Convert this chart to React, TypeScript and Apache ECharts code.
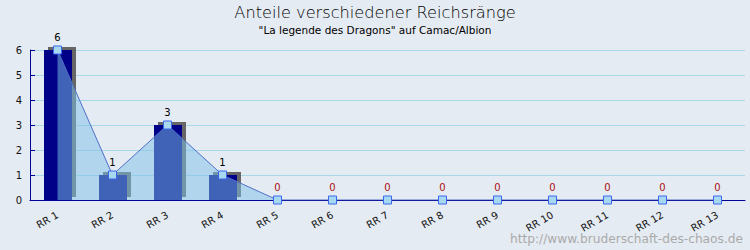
import React, { useEffect, useRef } from "react";
import * as echarts from "echarts";

const categories = ["RR 1", "RR 2", "RR 3", "RR 4", "RR 5", "RR 6", "RR 7", "RR 8", "RR 9", "RR 10", "RR 11", "RR 12", "RR 13"];
const values = [6, 1, 3, 1, 0, 0, 0, 0, 0, 0, 0, 0, 0];
const titleText = "Anteile verschiedener Reichsränge";
const subtitleText = '"La legende des Dragons" auf Camac/Albion';
const watermark = "http://www.bruderschaft-des-chaos.de";

const FONT = "DejaVu Sans";

export default function App() {
  const ref = useRef<HTMLDivElement>(null);
  useEffect(() => {
    if (!ref.current) return;
    const chart = echarts.init(ref.current, undefined, { renderer: "svg" });
    chart.setOption({
      animation: false,
      backgroundColor: "#e5ebf2",
      textStyle: { fontFamily: FONT },
      grid: { left: 30, right: 5, top: 50, bottom: 50, containLabel: false },
      graphic: [
        {
          type: "text",
          x: 375,
          y: 12,
          style: {
            text: titleText,
            fontFamily: FONT,
            fontSize: 16.2,
            fontWeight: 300,
            fill: "#000",
            textAlign: "center",
            textVerticalAlign: "middle",
          },
        },
        {
          type: "text",
          x: 375,
          y: 30,
          style: {
            text: subtitleText,
            fontFamily: FONT,
            fontSize: 10.5,
            fill: "#000",
            textAlign: "center",
            textVerticalAlign: "middle",
          },
        },
        {
          type: "text",
          x: 743,
          y: 239,
          style: {
            text: watermark,
            fontFamily: FONT,
            fontSize: 12.2,
            fill: "#aaaaaa",
            textAlign: "right",
            textVerticalAlign: "middle",
          },
        },
      ],
      xAxis: {
        type: "category",
        data: categories,
        boundaryGap: true,
        axisLine: { lineStyle: { color: "#000099", width: 1 } },
        axisTick: { inside: true, length: 5, lineStyle: { color: "#000099" } },
        axisLabel: { rotate: 30, fontSize: 10, color: "#111", fontFamily: FONT, margin: 14, interval: 0 },
        splitLine: { show: false },
      },
      yAxis: {
        type: "value",
        min: 0,
        max: 6,
        interval: 1,
        axisLine: { show: true, lineStyle: { color: "#000099", width: 1 } },
        axisTick: { show: true, inside: true, length: 5, lineStyle: { color: "#000099" } },
        axisLabel: { fontSize: 10, color: "#111", fontFamily: FONT, margin: 8 },
        splitLine: { lineStyle: { color: "#a8d8e8", width: 1 } },
      },
      series: [
        {
          type: "custom",
          z: 2,
          data: values.map((v, i) => [i, v]),
          renderItem: (params: any, api: any) => {
            const v = api.value(1);
            if (!v) return { type: "group", children: [] };
            const top = api.coord([api.value(0), v]);
            const base = api.coord([api.value(0), 0]);
            const w = 28;
            const x = top[0] - w / 2 + 0.5;
            const h = base[1] - top[1];
            return {
              type: "group",
              children: [
                {
                  type: "rect",
                  shape: { x: x + 4, y: top[1] - 3, width: w, height: h },
                  style: { fill: "#666666" },
                },
                {
                  type: "rect",
                  shape: { x, y: top[1], width: w, height: h },
                  style: { fill: "#000088" },
                },
              ],
            };
          },
        },
        {
          type: "line",
          z: 3,
          data: values.map((v) => ({
            value: v,
            label: { color: v === 0 ? "#aa1111" : "#000" },
          })),
          lineStyle: { color: "#5070c8", width: 1 },
          areaStyle: { color: "rgb(125,192,230)", opacity: 0.51, origin: "start" },
          symbol: "rect",
          symbolSize: 8,
          itemStyle: { color: "#a8d8f0", borderColor: "#3a66f0", borderWidth: 1 },
          label: { show: true, position: "top", distance: 3, fontSize: 10, fontFamily: FONT },
        },
      ],
    });
    return () => chart.dispose();
  }, []);
  return <div ref={ref} style={{ position: "fixed", left: 0, top: 0, width: 750, height: 250 }} />;
}
